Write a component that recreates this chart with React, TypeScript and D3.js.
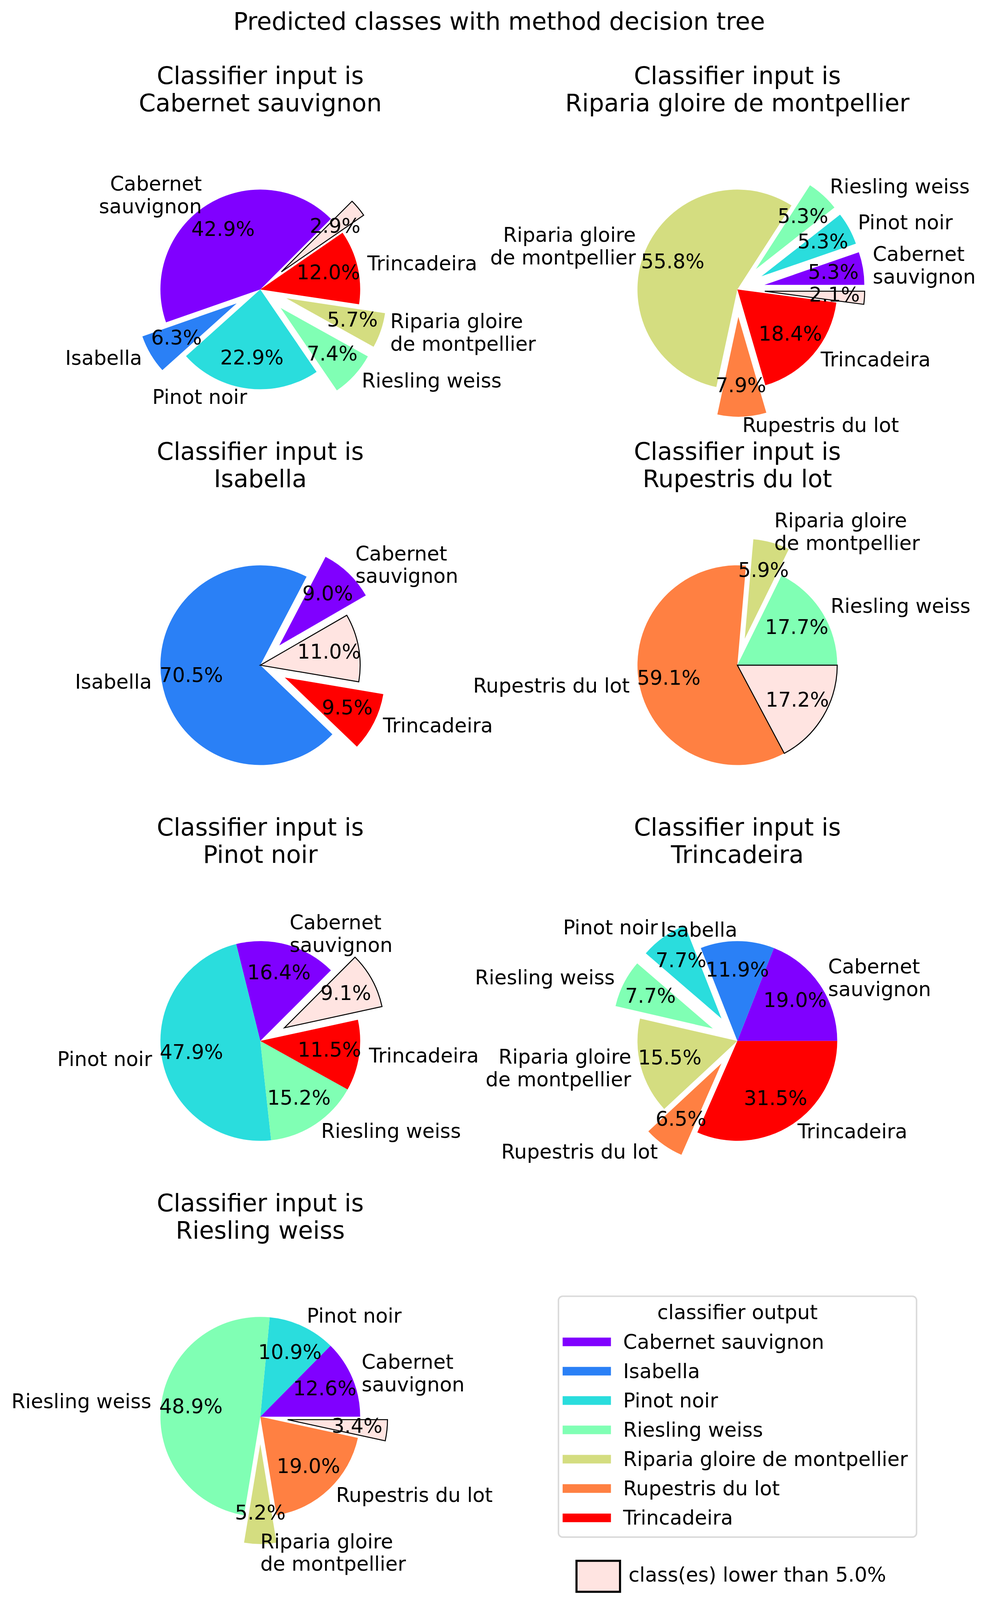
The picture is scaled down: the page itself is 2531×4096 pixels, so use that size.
import * as d3 from "d3";

// reference is 3317 px wide, window is 2531
const W = 2531;
const H = 4096;
const K = W / 3317;

const suptitle = "Predicted classes with method decision tree";
const classNames = [
  "Cabernet sauvignon",
  "Isabella",
  "Pinot noir",
  "Riesling weiss",
  "Riparia gloire de montpellier",
  "Rupestris du lot",
  "Trincadeira",
];
const OTHER = "other";
const otherThreshold = 5.0;
// matplotlib rainbow, 7 steps
const classColors = ["#8000ff", "#2a80f6", "#2adddd", "#80ffb4", "#d4dd80", "#ff8042", "#ff0000"];
const otherColor = "#ffe4e1";

const pieInputs = [
  "Cabernet sauvignon",
  "Riparia gloire de montpellier",
  "Isabella",
  "Rupestris du lot",
  "Pinot noir",
  "Trincadeira",
  "Riesling weiss",
];
const sliceClasses = [
  ["Cabernet sauvignon", "Isabella", "Pinot noir", "Riesling weiss", "Riparia gloire de montpellier", "Trincadeira", OTHER],
  ["Cabernet sauvignon", "Pinot noir", "Riesling weiss", "Riparia gloire de montpellier", "Rupestris du lot", "Trincadeira", OTHER],
  ["Cabernet sauvignon", "Isabella", "Trincadeira", OTHER],
  ["Riesling weiss", "Riparia gloire de montpellier", "Rupestris du lot", OTHER],
  ["Cabernet sauvignon", "Pinot noir", "Riesling weiss", "Trincadeira", OTHER],
  ["Cabernet sauvignon", "Isabella", "Pinot noir", "Riesling weiss", "Riparia gloire de montpellier", "Rupestris du lot", "Trincadeira"],
  ["Cabernet sauvignon", "Pinot noir", "Riesling weiss", "Riparia gloire de montpellier", "Rupestris du lot", OTHER],
];
const sliceValues = [
  [42.9, 6.3, 22.9, 7.4, 5.7, 12.0, 2.9],
  [5.3, 5.3, 5.3, 55.8, 7.9, 18.4, 2.1],
  [9.0, 70.5, 9.5, 11.0],
  [17.7, 5.9, 59.1, 17.2],
  [16.4, 47.9, 15.2, 11.5, 9.1],
  [19.0, 11.9, 7.7, 7.7, 15.5, 6.5, 31.5],
  [12.6, 10.9, 48.9, 5.2, 19.0, 3.4],
];
// degrees, counter-clockwise from 3 o'clock (matplotlib convention)
const startAngles = [45, 0, 30, 0, 45, 0, 0];
const explodeBelow = 10;

// layout in reference pixels
const FONT = "DejaVu Sans, Verdana, sans-serif";
const TITLE_FS = 81;
const FS = 67;
const R = 335;
const EXPLODE = 0.275;
const colX = [873, 2473];
const rowY0 = 971;
const rowStep = 1260.7;

const fmt = d3.format(".1f");

function labelLines(name: string) {
  if (name === "Cabernet sauvignon") return ["Cabernet", "sauvignon"];
  if (name === "Riparia gloire de montpellier") return ["Riparia gloire", "de montpellier"];
  return [name];
}

function colorOf(name: string) {
  return name === OTHER ? otherColor : classColors[classNames.indexOf(name)];
}

function MLText({ x, y, lines, anchor, size }: { x: number; y: number; lines: string[]; anchor: string; size: number }) {
  const L = 1.13 * size;
  const first = y - ((lines.length - 1) * L) / 2 + 0.28 * size;
  return (
    <text textAnchor={anchor} fontSize={size}>
      {lines.map((l, i) => (
        <tspan key={i} x={x} y={first + i * L}>
          {l}
        </tspan>
      ))}
    </text>
  );
}

function Pie({ idx }: { idx: number }) {
  const cx = colX[idx % 2];
  const cy = rowY0 + rowStep * Math.floor(idx / 2);
  const values = sliceValues[idx];
  const names = sliceClasses[idx];
  const a0 = Math.PI / 2 - (startAngles[idx] * Math.PI) / 180;
  const arcs = d3
    .pie<number>()
    .sort(null)
    .value((d) => d)
    .startAngle(a0)
    .endAngle(a0 - 2 * Math.PI)(values);
  const arcGen = d3.arc<d3.PieArcDatum<number>>().innerRadius(0).outerRadius(R);

  const items = arcs.map((a, i) => {
    const mid = (a.startAngle + a.endAngle) / 2;
    const ux = Math.sin(mid);
    const uy = -Math.cos(mid);
    const e = values[i] < explodeBelow ? EXPLODE * R : 0;
    // labels sitting exactly on the vertical: the source counts put them a hair counter-clockwise
    const left = Math.sin(mid - 1e-4) > 0;
    return { a, i, ux, uy, dx: ux * e, dy: uy * e, name: names[i], left };
  });

  return (
    <g transform={`translate(${cx},${cy})`}>
      <MLText x={0} y={-689 - 0.28 * TITLE_FS} lines={["Classifier input is"]} anchor="middle" size={TITLE_FS} />
      <MLText x={0} y={-598 - 0.28 * TITLE_FS} lines={[pieInputs[idx]]} anchor="middle" size={TITLE_FS} />
      {items.map((it) => (
        <path
          key={"w" + it.i}
          d={arcGen(it.a) || ""}
          transform={`translate(${it.dx},${it.dy})`}
          fill={colorOf(it.name)}
          stroke={it.name === OTHER ? "#000" : "none"}
          strokeWidth={3.3}
        />
      ))}
      {items.map((it) =>
        it.name === OTHER ? null : (
          <MLText
            key={"l" + it.i}
            x={it.dx + 1.1 * R * it.ux}
            y={it.dy + 1.1 * R * it.uy}
            lines={labelLines(it.name)}
            anchor={it.left ? "start" : "end"}
            size={FS}
          />
        )
      )}
      {items.map((it) => (
        <MLText
          key={"p" + it.i}
          x={it.dx + 0.7 * R * it.ux}
          y={it.dy + 0.7 * R * it.uy}
          lines={[fmt(values[it.i]) + "%"]}
          anchor="middle"
          size={FS}
        />
      ))}
    </g>
  );
}

function Legend() {
  const x0 = 1873;
  const y0 = 4349;
  const entryY = d3.range(classNames.length).map((i) => 4502 + i * 98.4);
  return (
    <g>
      <rect x={x0} y={y0} width={1201} height={808} rx={14} fill="#fff" stroke="#dadada" strokeWidth={5} />
      <text x={x0 + 600.5} y={4426} textAnchor="middle" fontSize={FS}>
        classifier output
      </text>
      {classNames.map((c, i) => (
        <g key={c}>
          <line x1={1887} x2={2049} y1={entryY[i]} y2={entryY[i]} stroke={classColors[i]} strokeWidth={29} />
          <text x={2090} y={entryY[i] + 23} fontSize={FS}>
            {c}
          </text>
        </g>
      ))}
      <rect x={1933.5} y={5236.5} width={146} height={104} fill={otherColor} stroke="#000" strokeWidth={7} />
      <text x={2108} y={5307} fontSize={FS}>
        {`class(es) lower than ${fmt(otherThreshold)}%`}
      </text>
    </g>
  );
}

export default function App() {
  return (
    <svg
      width={W}
      height={H}
      viewBox={`0 0 ${W} ${H}`}
      style={{ position: "absolute", left: 0, top: 0, background: "#fff" }}
      fontFamily={FONT}
    >
      <rect width={W} height={H} fill="#fff" />
      <g transform={`scale(${K})`}>
        <text x={1674} y={99} textAnchor="middle" fontSize={TITLE_FS}>
          {suptitle}
        </text>
        {pieInputs.map((_, i) => (
          <Pie key={i} idx={i} />
        ))}
        <Legend />
      </g>
    </svg>
  );
}
